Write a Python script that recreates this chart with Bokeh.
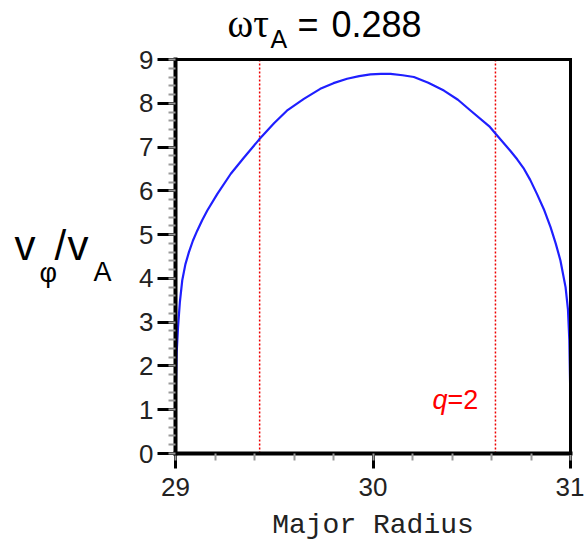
from bokeh.plotting import figure
from bokeh.models import Range1d, SingleIntervalTicker, Label, LinearAxis
from bokeh.embed import file_html
from bokeh.resources import INLINE

# ---- data ----
radius = [29.0, 29.001, 29.003, 29.006, 29.013, 29.022, 29.034, 29.05, 29.068, 29.088,
          29.11, 29.135, 29.161, 29.212, 29.28, 29.347, 29.423, 29.5, 29.564, 29.65,
          29.733, 29.8, 29.869, 29.93, 29.987, 30.04, 30.089, 30.15, 30.207, 30.28,
          30.359, 30.43, 30.495, 30.592, 30.622, 30.694, 30.73, 30.762, 30.796, 30.83,
          30.865, 30.899, 30.925, 30.949, 30.975, 30.987, 30.994, 30.998, 30.9995, 31.0]
v_phi = [0.0, 1.0, 1.7, 2.3, 2.9, 3.45, 3.95, 4.32, 4.6, 4.86,
         5.09, 5.33, 5.55, 5.93, 6.39, 6.76, 7.17, 7.55, 7.83, 8.1,
         8.33, 8.46, 8.56, 8.62, 8.66, 8.67, 8.67, 8.64, 8.6, 8.47,
         8.29, 8.08, 7.83, 7.46, 7.3, 6.92, 6.72, 6.52, 6.25, 5.93,
         5.58, 5.17, 4.8, 4.41, 3.8, 3.3, 2.6, 1.6, 0.9, 0.0]
q2_radius = [29.426, 30.62]
x_bounds = (29, 31)
y_bounds = (0, 9)

FW, FH = 584, 545
L, R, T, B = 175, 570, 59, 453  # plot box edges in pixels

sx = (R - L) / (x_bounds[1] - x_bounds[0])
sy = (B - T) / (y_bounds[1] - y_bounds[0])
x0 = x_bounds[0] - L / sx
x1 = x_bounds[0] + (FW - L) / sx
y0 = y_bounds[0] - (FH - B) / sy
y1 = y_bounds[1] + T / sy


def dx(px):
    return x_bounds[0] + (px - L) / sx


def dy(py):
    return y_bounds[0] + (B - py) / sy


p = figure(width=FW, height=FH, output_backend="svg", toolbar_location=None,
           x_range=Range1d(x0, x1), y_range=Range1d(y0, y1),
           x_axis_location=None, y_axis_location=None,
           min_border=0, min_border_left=0, min_border_right=0,
           min_border_top=0, min_border_bottom=0)
p.background_fill_color = "white"
p.border_fill_color = "white"
p.outline_line_color = None
p.xgrid.visible = False
p.ygrid.visible = False


def style_axis(ax):
    ax.ticker = SingleIntervalTicker(interval=1, num_minor_ticks=5)
    ax.axis_line_width = 4
    ax.axis_line_color = "black"
    ax.axis_line_cap = "square"
    ax.major_tick_line_color = "black"
    ax.major_tick_line_width = 3
    ax.minor_tick_line_color = "#9a9a9a"
    ax.minor_tick_line_width = 2
    ax.major_tick_in = 0
    ax.minor_tick_in = 0
    ax.minor_tick_out = 7
    ax.major_label_text_font = "Liberation Sans"
    ax.major_label_text_font_size = "26px"
    ax.major_label_text_color = "#222222"


yax = LinearAxis(fixed_location=x_bounds[0], bounds=y_bounds)
style_axis(yax)
yax.major_tick_out = 18
yax.major_label_standoff = 4
p.add_layout(yax, "left")

xax = LinearAxis(fixed_location=y_bounds[0], bounds=x_bounds)
style_axis(xax)
xax.major_tick_out = 15
xax.major_label_standoff = 9
xax.axis_label = "Major Radius"
xax.axis_label_text_font = "Liberation Mono"
xax.axis_label_text_font_style = "normal"
xax.axis_label_text_font_size = "28px"
xax.axis_label_standoff = 11
xax.axis_label_text_color = "#222222"
p.add_layout(xax, "below")

# top and right edges of the box
for loc, side, bnds in ((y_bounds[1], "above", x_bounds), (x_bounds[1], "right", y_bounds)):
    ax = LinearAxis(fixed_location=loc, bounds=bnds)
    ax.axis_line_width = 3
    ax.axis_line_color = "black"
    ax.axis_line_cap = "square"
    ax.major_tick_line_color = None
    ax.minor_tick_line_color = None
    ax.major_label_text_color = None
    ax.major_label_text_font_size = "0px"
    p.add_layout(ax, side)

# dotted q=2 lines
p.segment(x0=q2_radius, y0=[y_bounds[0]] * len(q2_radius),
          x1=q2_radius, y1=[y_bounds[1]] * len(q2_radius),
          line_color="#ee0000", line_width=1.5, line_dash="2 2")

# curve
p.line(radius, v_phi, line_color="#1f1fff", line_width=2.2)


def lab(text, px, py, size, font="Liberation Sans", color="black", style="normal"):
    shift = 0.3 * size + 2.5
    p.add_layout(Label(x=dx(px), y=dy(py - shift), text=text, text_font=font,
                       text_font_size=f"{size}px", text_color=color,
                       text_font_style=style, text_baseline="alphabetic",
                       text_align="left"))


# title  ωτ_A = 0.288
lab("ωτ", 227, 37, 39, font="Liberation Serif")
lab("A", 270, 48, 25)
lab("=", 297, 37, 36)
lab("0.288", 331, 37, 36)

# y label  vφ/vA
lab("v", 14, 260, 42)
lab("φ", 39, 283, 27)
lab("/", 54, 260, 42)
lab("v", 67, 260, 42)
lab("A", 93, 282, 27)

# q=2 annotation
lab("q", 432, 410, 27, color="red", style="italic")
lab("=2", 447, 410, 27, color="red")

open("out.html", "w").write(file_html(p, INLINE))
